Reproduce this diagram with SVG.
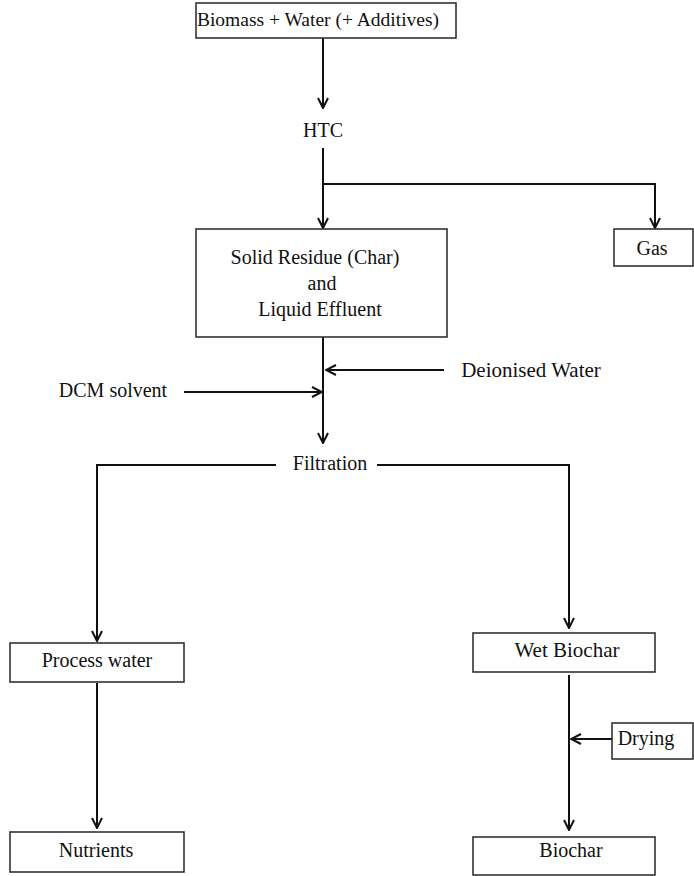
<svg xmlns="http://www.w3.org/2000/svg" width="694" height="876" viewBox="0 0 694 876">
<style>
.box{fill:#fff;stroke:#333;stroke-width:1.6}
.t{font-family:"Liberation Serif","Times New Roman",serif;font-size:20px;fill:#111;text-anchor:middle}
.c{fill:none;stroke:#111;stroke-width:2}
</style>
<defs>
<marker id="a" viewBox="0 0 12 12" refX="11" refY="6" markerWidth="12" markerHeight="12" markerUnits="userSpaceOnUse" orient="auto">
<path d="M1,1 L11,6 L1,11" fill="none" stroke="#111" stroke-width="2"/>
</marker>
</defs>
<rect width="694" height="876" fill="#fff"/>
<g id="connectors">
<line class="c" x1="323" y1="38" x2="323" y2="108" marker-end="url(#a)"/>
<line class="c" x1="323" y1="148" x2="323" y2="228" marker-end="url(#a)"/>
<polyline class="c" points="323,184 655,184 655,228" marker-end="url(#a)"/>
<line class="c" x1="323" y1="337" x2="323" y2="443" marker-end="url(#a)"/>
<line class="c" x1="444" y1="370" x2="326" y2="370" marker-end="url(#a)"/>
<line class="c" x1="184" y1="392" x2="322" y2="392" marker-end="url(#a)"/>
<polyline class="c" points="276,465 97,465 97,641" marker-end="url(#a)"/>
<polyline class="c" points="377,465 569,465 569,628" marker-end="url(#a)"/>
<line class="c" x1="97" y1="683" x2="97" y2="828" marker-end="url(#a)"/>
<line class="c" x1="569" y1="675" x2="569" y2="830" marker-end="url(#a)"/>
<line class="c" x1="612" y1="739" x2="571" y2="739" marker-end="url(#a)"/>
</g>
<g id="biomass"><rect class="box" x="196" y="3" width="260" height="35"/><text class="t" x="318" y="26" style="font-size:19.5px">Biomass + Water (+ Additives)</text></g>
<g id="htc"><text class="t" x="323" y="137">HTC</text></g>
<g id="solid"><rect class="box" x="196" y="229" width="251" height="108"/>
<text class="t" x="315" y="264">Solid Residue (Char)</text>
<text class="t" x="322" y="290">and</text>
<text class="t" x="320" y="316">Liquid Effluent</text></g>
<g id="gas"><rect class="box" x="614" y="229" width="79" height="37"/><text class="t" x="652" y="255">Gas</text></g>
<g id="deionised"><text class="t" x="531" y="377" style="font-size:21px">Deionised Water</text></g>
<g id="dcm"><text class="t" x="113" y="397">DCM solvent</text></g>
<g id="filtration"><text class="t" x="330" y="470">Filtration</text></g>
<g id="processwater"><rect class="box" x="10" y="643" width="174" height="39"/><text class="t" x="97" y="667">Process water</text></g>
<g id="nutrients"><rect class="box" x="10" y="832" width="174" height="40"/><text class="t" x="96" y="857">Nutrients</text></g>
<g id="wetbiochar"><rect class="box" x="473" y="633" width="182" height="39"/><text class="t" x="567" y="657" style="font-size:21px">Wet Biochar</text></g>
<g id="drying"><rect class="box" x="612" y="723" width="81" height="36"/><text class="t" x="646" y="745">Drying</text></g>
<g id="biochar"><rect class="box" x="473" y="837" width="182" height="38"/><text class="t" x="571" y="857">Biochar</text></g>
</svg>
